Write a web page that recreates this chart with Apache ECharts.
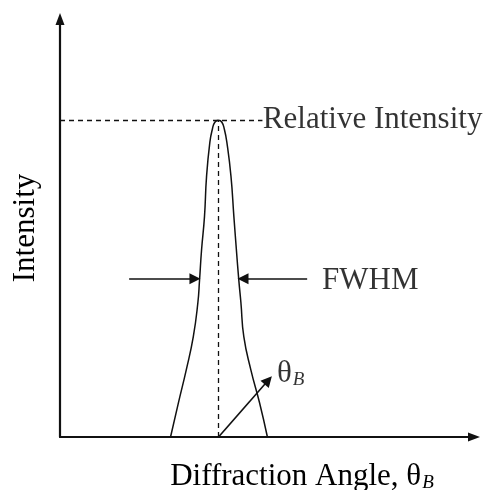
<!DOCTYPE html>
<html><head><meta charset="utf-8">
<script src="https://cdn.jsdelivr.net/npm/echarts@6/dist/echarts.min.js"></script>
<style>html,body{margin:0;padding:0;background:#fff}#c{width:490px;height:490px}</style>
</head><body><div id="c"></div>
<script>
// Peak profile (x: diffraction angle, arbitrary units; y: relative intensity, %)
const peakX = [26.7, 28.6, 30.5, 32.2, 33.3, 33.7, 34.2, 34.9, 35.4, 36.2, 36.8, 37.4, 38.3, 39.1, 39.7, 40.3, 41.3, 42.0, 42.6, 43.2, 43.7, 44.4, 46.1, 48.2, 50.1];
const peakY = [0, 10.8, 21.2, 31.7, 42.4, 49.4, 59.2, 69.6, 82.3, 93.1, 97.2, 99.4, 100, 99.4, 97.2, 93.1, 82.3, 69.6, 59.2, 49.4, 42.4, 31.7, 21.2, 10.8, 0];
const peakCenter = 38.3;
const peakMax = 100;
const halfMax = 50;
const relIntensityEndX = 48.9;
const fwhmArrowLeft = [16.7, 32.6];
const fwhmArrowRight = [59.7, 44.2];
const thetaArrow = [[38.3, 0], [50.3, 17.9]];
const labelTexts = ['Relative Intensity', 'FWHM', 'θB'];
const labelPos = [[49.0, 100], [63.3, 49.3], [52.4, 19.9]];
const xRange = [0, 100];
const yRange = [0, 132];

const serif = "'Liberation Serif', 'Times New Roman', serif";
const ink = '#000';
const chart = echarts.init(document.getElementById('c'), null, {renderer: 'canvas'});
const sub = {
  t: {fontFamily: serif, fontSize: 31, color: ink, lineHeight: 31},
  s: {fontFamily: serif, fontSize: 19, fontStyle: 'italic', color: ink, verticalAlign: 'bottom', lineHeight: 19, padding: [0, 0, 0, 1]}
};
const arrowLine = {color: '#111', width: 1.6, type: 'solid', opacity: 1};

chart.setOption({
  animation: false,
  backgroundColor: '#fff',
  grid: {left: 60, right: 16, top: 19, bottom: 53, outerBoundsMode: 'none', containLabel: false},
  xAxis: {
    type: 'value', min: xRange[0], max: xRange[1],
    name: '{t|Diffraction Angle, θ}{s|B}', nameLocation: 'middle', nameGap: 24,
    nameTextStyle: {rich: sub, padding: [0, 0, 0, 70]},
    axisLine: {lineStyle: {color: '#111', width: 2.2}, symbol: ['none', 'triangle'], symbolSize: [9, 12]},
    axisTick: {show: false}, axisLabel: {show: false}, splitLine: {show: false}
  },
  yAxis: {
    type: 'value', min: yRange[0], max: yRange[1],
    name: 'Intensity', nameLocation: 'middle', nameRotate: 90, nameGap: 19,
    nameTextStyle: {fontFamily: serif, fontSize: 31, color: ink},
    axisLine: {lineStyle: {color: '#111', width: 2.2}, symbol: ['none', 'triangle'], symbolSize: [9, 12]},
    axisTick: {show: false}, axisLabel: {show: false}, splitLine: {show: false}
  },
  series: [
    {
      type: 'line', smooth: 0.5, symbol: 'none',
      data: peakX.map((x, i) => [x, peakY[i]]),
      lineStyle: {color: '#111', width: 1.5}
    },
    {
      type: 'lines', coordinateSystem: 'cartesian2d', symbol: ['none', 'none'],
      lineStyle: {color: '#111', width: 1.3, type: [5, 4], opacity: 1},
      data: [
        {coords: [[xRange[0], peakMax], [relIntensityEndX, peakMax]]},
        {coords: [[peakCenter, 0], [peakCenter, peakMax]]}
      ]
    },
    {
      type: 'lines', coordinateSystem: 'cartesian2d', symbol: ['none', 'triangle'], symbolSize: 11,
      lineStyle: arrowLine,
      data: [
        {coords: [[fwhmArrowLeft[0], halfMax], [fwhmArrowLeft[1], halfMax]]},
        {coords: [[fwhmArrowRight[0], halfMax], [fwhmArrowRight[1], halfMax]]},
        {coords: thetaArrow}
      ]
    },
    {
      type: 'scatter', symbolSize: 0, clip: false,
      data: labelPos.map((p, i) => ({value: p, name: labelTexts[i]})),
      label: {
        show: true, position: 'right', distance: 0,
        fontFamily: serif, fontSize: 31, color: ink,
        formatter: p => p.name === 'θB' ? '{t|θ}{s|B}' : p.name,
        rich: sub
      }
    }
  ]
});
</script></body></html>
